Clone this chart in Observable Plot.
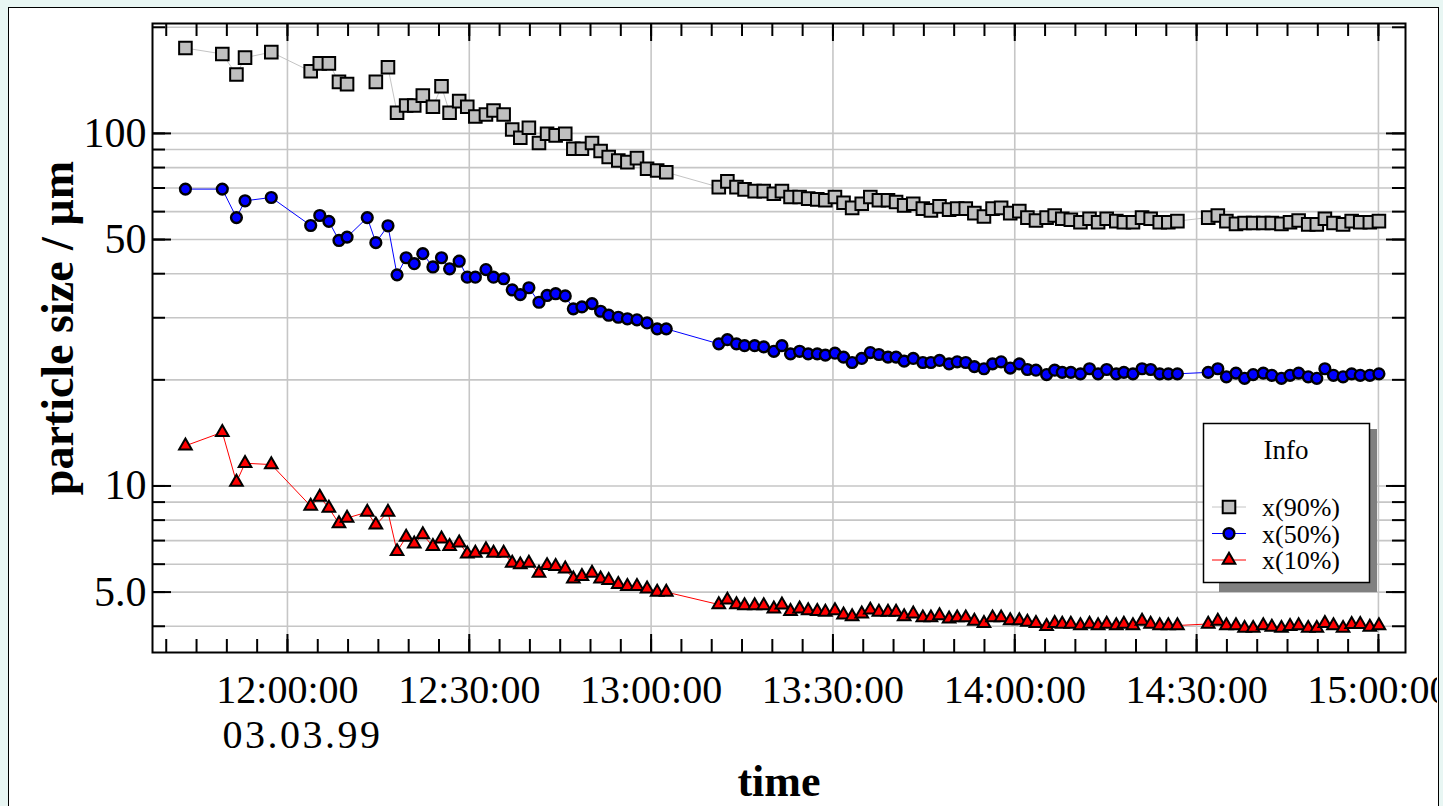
<!DOCTYPE html>
<html><head><meta charset="utf-8">
<script src="https://cdn.jsdelivr.net/npm/d3@7"></script>
<script src="https://cdn.jsdelivr.net/npm/@observablehq/plot@0.6"></script>
<style>
html,body{margin:0;padding:0;background:#e8f6f3;width:1443px;height:806px;overflow:hidden;}
#box{position:absolute;left:8px;top:7px;width:1431px;height:830px;background:#fff;border:1.5px solid #000;box-sizing:border-box;}
#chart{position:absolute;left:0;top:0;}
</style></head><body><div id="box"></div><div id="chart"></div>
<script>
// ---- data ----
const dateLabel = "03.03.99";
const times = [
"11:43:10","11:49:15","11:51:35","11:53:00","11:57:20",
"12:03:50","12:05:20","12:06:50","12:08:30","12:09:50",
"12:13:10","12:14:35","12:16:35","12:18:05","12:19:35",
"12:20:55","12:22:20","12:24:00","12:25:25","12:26:45",
"12:28:20","12:29:40","12:31:00","12:32:45","12:34:00",
"12:35:40","12:37:05","12:38:25","12:39:50","12:41:30",
"12:42:50","12:44:15","12:45:50","12:47:10","12:48:35",
"12:50:15","12:51:40","12:53:00","12:54:35","12:56:05",
"12:57:40","12:59:20","13:01:00","13:02:30",
"13:11:10","13:12:35","13:14:05","13:15:25","13:17:05",
"13:18:35","13:20:15","13:21:35","13:23:00","13:24:30",
"13:25:55","13:27:25","13:28:45","13:30:20","13:31:45",
"13:33:10","13:34:45","13:36:10","13:37:35","13:39:05",
"13:40:25","13:41:45","13:43:15","13:44:50","13:46:10",
"13:47:35","13:49:10","13:50:30","13:51:55","13:53:20",
"13:54:55","13:56:20","13:57:45","13:59:15","14:00:45",
"14:02:05","14:03:30","14:05:15","14:06:35","14:07:50",
"14:09:15","14:10:50","14:12:20","14:13:45","14:15:10",
"14:16:45","14:18:00","14:19:30","14:21:00","14:22:25",
"14:23:55","14:25:20","14:26:50",
"14:31:55","14:33:30","14:34:55","14:36:30","14:37:55",
"14:39:20","14:41:00","14:42:25","14:44:00","14:45:25",
"14:46:50","14:48:25","14:49:50","14:51:10","14:52:35",
"14:54:10","14:55:35","14:57:00","14:58:35","15:00:05"
];
const x90 = [
174.6,168,147,164,170,150,158,158,140,138,
null,140,154,114.5,120,120,128,119,136,114.5,
123.5,119,111.7,113.2,116.2,113.2,102.6,97.2,103.8,93.9,
99.8,98.7,99.8,90.5,90.5,93.9,89.1,85.7,83.8,82.9,
85.1,79.4,78.5,77.6,
70.4,73.1,70.4,69.4,68.6,68.6,67.4,68.6,66.0,66.0,
65.3,65.0,64.6,66.0,63.6,61.5,63.2,66.0,64.6,64.6,
63.9,62.5,63.2,61.2,60.5,62.1,60.8,61.2,61.2,59.4,
58.1,61.2,61.5,59.4,60.2,57.7,56.6,57.7,58.5,57.3,
56.9,56.0,57.3,56.0,57.3,56.4,56.0,56.0,57.7,57.3,
56.0,56.0,56.4,
57.7,58.5,56.4,55.4,55.7,55.7,55.7,55.7,55.4,56.0,
56.6,55.2,55.2,57.3,55.7,55.2,56.4,56.0,56.0,56.4
];
const x50 = [
69.5,69.5,57.7,64.4,65.8,54.8,58.5,56.3,49.7,50.8,
57.7,49.0,54.7,39.7,44.4,42.7,45.6,41.8,44.4,41.3,
43.4,39.1,39.1,41.1,39.1,38.7,36.0,34.9,36.5,33.2,
34.7,35.1,34.6,31.8,32.2,32.9,31.3,30.5,30.1,29.8,
29.6,29.0,27.9,27.9,
25.3,26.0,25.3,25.0,25.0,24.8,24.1,25.0,23.7,24.1,
23.7,23.7,23.5,23.8,23.2,22.4,23.0,23.9,23.6,23.2,
23.2,22.6,23.0,22.4,22.4,22.7,22.2,22.5,22.4,21.8,
21.5,22.2,22.5,21.6,22.2,21.4,21.3,20.7,21.3,21.0,
21.0,20.8,21.5,20.8,21.4,20.8,21.0,20.8,21.5,21.4,
20.8,20.8,20.8,
21.0,21.5,20.4,20.9,20.2,20.7,20.9,20.6,20.2,20.6,
20.9,20.4,20.2,21.5,20.6,20.4,20.8,20.6,20.6,20.8
];
const x10 = [
13.0,14.2,10.25,11.6,11.5,8.77,9.30,8.66,7.82,8.11,
8.43,7.76,8.43,6.52,7.16,6.85,7.28,6.74,7.08,6.74,
6.90,6.42,6.45,6.60,6.45,6.45,6.04,5.98,6.04,5.66,
5.95,5.92,5.82,5.45,5.54,5.66,5.45,5.40,5.26,5.19,
5.19,5.11,5.00,5.00,
4.61,4.75,4.61,4.58,4.58,4.58,4.48,4.60,4.41,4.48,
4.43,4.41,4.39,4.43,4.31,4.26,4.34,4.45,4.39,4.39,
4.39,4.26,4.34,4.23,4.23,4.29,4.20,4.23,4.23,4.14,
4.08,4.23,4.23,4.15,4.15,4.11,4.08,4.00,4.08,4.06,
4.06,4.02,4.06,4.02,4.06,4.02,4.06,4.02,4.14,4.06,
4.02,4.02,4.02,
4.06,4.14,4.02,4.02,3.95,3.95,4.02,3.98,3.95,4.00,
4.02,3.95,3.95,4.08,4.02,3.95,4.05,4.05,3.98,4.02
];
const seriesNames = ["x(90%)", "x(50%)", "x(10%)"];
const seriesColors = ["#c4c4c4", "#0000ff", "#ff0000"];
const seriesFills = ["#c0c0c0", "#0000ff", "#ff0000"];
const seriesSymbols = ["square", "circle", "triangle"];
const yTickValues = [100, 50, 10, 5];
const yTickTexts = ["100", "50", "10", "5.0"];
const yGridValues = [4,5,6,7,8,9,10,20,30,40,50,60,70,80,90,100,200];
const xLabelTimes = ["12:00:00","12:30:00","13:00:00","13:30:00","14:00:00","14:30:00","15:00:00"];
const xDomainTimes = ["11:37:44", "15:04:28"];
const yDomain = [3.37, 205];
const xTitle = "time";
const yTitle = "particle size / µm";
const legendTitle = "Info";

// ---- build ----
const parse = d3.timeParse("%d.%m.%y %H:%M:%S");
const P = t => parse(dateLabel + " " + t);
const rows = times.map((t, i) => ({t: P(t), v90: x90[i], v50: x50[i], v10: x10[i]}));
const xMajor = xLabelTimes.map(P);
const xMinor = d3.timeMinute.every(5).range(P("11:40:00"), P("15:00:01"));

const W = 1437, H = 806, ML = 152, MR = 32, MT = 23, MB = 154;
const IW = W - ML - MR, IH = H - MT - MB;
const font = "Liberation Serif";
const majorLen = 18, minorLen = 13;
const tickStyle = {stroke: "black", strokeWidth: 2};
const markerR = [7.1, 5.4, 4.7], markerSW = [2, 2.4, 2];

const chart = Plot.plot({
  width: W, height: H,
  marginLeft: ML, marginRight: MR, marginTop: MT, marginBottom: MB,
  style: {background: "transparent", overflow: "hidden", fontFamily: font, color: "black"},
  x: {type: "time", domain: xDomainTimes.map(P), axis: null},
  y: {type: "log", domain: yDomain, axis: null},
  marks: [
    Plot.ruleY(yGridValues, {y: d => d, stroke: "#c6c6c6", strokeWidth: 1.6}),
    Plot.ruleX(xMajor, {x: d => d, stroke: "#c6c6c6", strokeWidth: 1.6}),
    // bottom / top ticks (pointing inward)
    Plot.tickX(xMinor, {x: d => d, insetTop: IH - minorLen, ...tickStyle}),
    Plot.tickX(xMajor, {x: d => d, insetTop: IH - majorLen, ...tickStyle}),
    Plot.tickX(xMinor, {x: d => d, insetBottom: IH - minorLen, ...tickStyle}),
    Plot.tickX(xMajor, {x: d => d, insetBottom: IH - majorLen, ...tickStyle}),
    // left / right ticks
    Plot.tickY(yGridValues, {y: d => d, insetRight: IW - minorLen, ...tickStyle}),
    Plot.tickY(yTickValues, {y: d => d, insetRight: IW - majorLen - 1, ...tickStyle}),
    Plot.tickY(yGridValues, {y: d => d, insetLeft: IW - minorLen, ...tickStyle}),
    Plot.tickY(yTickValues, {y: d => d, insetLeft: IW - majorLen - 1, ...tickStyle}),
    Plot.frame({stroke: "black", strokeWidth: 2}),
    // series
    Plot.line(rows, {x: "t", y: "v90", stroke: seriesColors[0], strokeWidth: 1}),
    Plot.dot(rows, {x: "t", y: "v90", symbol: seriesSymbols[0], r: markerR[0], fill: seriesFills[0], stroke: "black", strokeWidth: markerSW[0]}),
    Plot.line(rows, {x: "t", y: "v50", stroke: seriesColors[1], strokeWidth: 1}),
    Plot.dot(rows, {x: "t", y: "v50", symbol: seriesSymbols[1], r: markerR[1], fill: seriesFills[1], stroke: "black", strokeWidth: markerSW[1]}),
    Plot.line(rows, {x: "t", y: "v10", stroke: seriesColors[2], strokeWidth: 1}),
    Plot.dot(rows, {x: "t", y: "v10", symbol: seriesSymbols[2], r: markerR[2], fill: seriesFills[2], stroke: "black", strokeWidth: markerSW[2]}),
    // tick labels
    Plot.text(yTickValues, {y: d => d, frameAnchor: "left", dx: -6, textAnchor: "end", lineAnchor: "middle",
      text: (d, i) => yTickTexts[i], fontSize: 42, fontFamily: font, fill: "black"}),
    Plot.text(xMajor, {x: d => d, frameAnchor: "bottom", dy: 38, lineAnchor: "middle",
      text: (d, i) => xLabelTimes[i], fontSize: 40, fontFamily: font, fill: "black"}),
    Plot.text([dateLabel], {x: () => xMajor[0], frameAnchor: "bottom", dy: 83, dx: 15, lineAnchor: "middle",
      text: d => d, fontSize: 40, fontFamily: font, fill: "black"}),
    // x axis title
    Plot.text([xTitle], {frameAnchor: "bottom", dy: 129, lineAnchor: "middle", text: d => d,
      fontSize: 44, fontWeight: "bold", fontFamily: font, fill: "black"})
  ]
});
document.getElementById("chart").appendChild(chart);

const svg = d3.select(chart);
// widen date label spacing like the reference
svg.selectAll("text").filter(function() { return this.textContent === dateLabel; }).attr("letter-spacing", 2.5);

// y axis title (rotated)
svg.append("text")
  .attr("transform", "translate(57,328) rotate(-90)")
  .attr("text-anchor", "middle").attr("dy", "0.35em")
  .attr("font-family", font).attr("font-size", 46).attr("font-weight", "bold").attr("fill", "black")
  .text(yTitle);

// ---- legend box ----
const lg = svg.append("g").attr("font-family", font).attr("fill", "black");
lg.append("rect").attr("x", 1219).attr("y", 429).attr("width", 158).attr("height", 163).attr("fill", "#808080");
lg.append("rect").attr("x", 1203.5).attr("y", 423.5).attr("width", 166).attr("height", 159)
  .attr("fill", "white").attr("stroke", "black").attr("stroke-width", 1.5);
lg.append("text").attr("x", 1286).attr("y", 450).attr("dy", "0.35em").attr("text-anchor", "middle")
  .attr("font-size", 27).text(legendTitle);
const symMap = {square: d3.symbolSquare, circle: d3.symbolCircle, triangle: d3.symbolTriangle};
seriesNames.forEach((name, i) => {
  const y = 507 + i * 26.5;
  lg.append("line").attr("x1", 1212).attr("x2", 1246).attr("y1", y).attr("y2", y)
    .attr("stroke", seriesColors[i]).attr("stroke-width", 1);
  lg.append("path").attr("transform", `translate(1229,${y})`)
    .attr("d", d3.symbol(symMap[seriesSymbols[i]], markerR[i] * markerR[i] * Math.PI)())
    .attr("fill", seriesFills[i]).attr("stroke", "black").attr("stroke-width", markerSW[i]);
  lg.append("text").attr("x", 1262).attr("y", y).attr("dy", "0.35em").attr("text-anchor", "start")
    .attr("font-size", 26).text(name);
});
</script></body></html>
